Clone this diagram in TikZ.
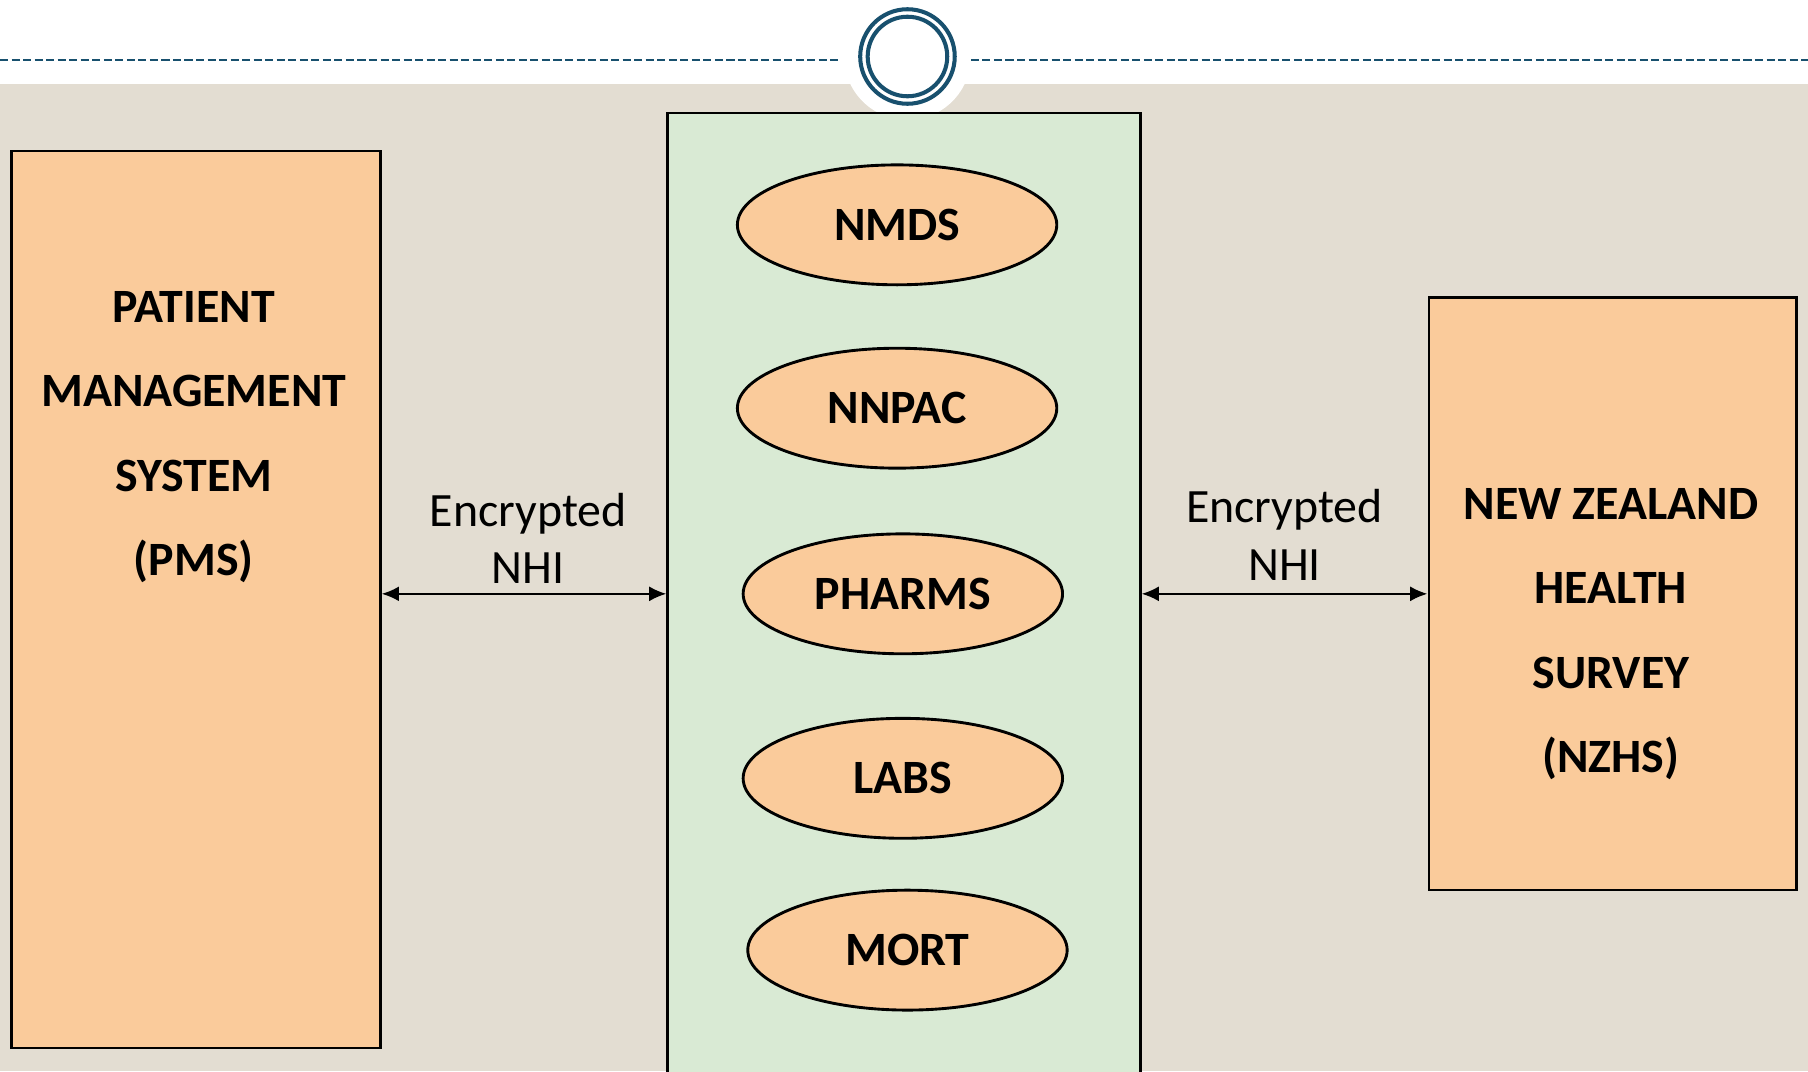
\documentclass[tikz,border=0pt]{standalone}
\usepackage{fontspec}
\setmainfont{Carlito}
\usetikzlibrary{shapes.geometric,arrows.meta}
\definecolor{bgbeige}{RGB}{227,221,210}
\definecolor{boxorange}{RGB}{250,203,155}
\definecolor{hubgreen}{RGB}{217,234,212}
\definecolor{ringblue}{RGB}{24,80,110}
\tikzset{
  bigbox/.style={draw=black, line width=2pt, fill=boxorange, inner sep=0pt, anchor=north west},
  hubbox/.style={draw=black, line width=2pt, fill=hubgreen, inner sep=0pt, anchor=north west},
  dataset/.style={ellipse, draw=black, line width=2.5pt, fill=boxorange, minimum width=277pt, minimum height=104pt, inner sep=0pt,
    font=\fontsize{41.5}{48}\selectfont\bfseries},
  blocktext/.style={align=center, font=\fontsize{41.5}{73.2}\selectfont\bfseries},
  labeltext/.style={align=center, font=\fontsize{41.5}{50}\selectfont},
  biarrow/.style={line width=2pt, {Latex[length=15pt,width=13pt]}-{Latex[length=15pt,width=13pt]}},
  ring/.style={draw=ringblue, line width=3.5pt},
  dashline/.style={draw=ringblue, line width=1.6pt, dash pattern=on 7pt off 3pt}
}
\begin{document}
\begin{tikzpicture}[x=1pt,y=-1pt]
% canvas 1568 x 929 (reference proportions)
\useasboundingbox (0,0) rectangle (1568,929);
\fill[white] (0,0) rectangle (1568,929);
\fill[bgbeige] (0,73) rectangle (1568,929);
% header line and emblem
\coordinate (dl1) at (0,52);
\coordinate (dl2) at (730,52);
\coordinate (dr1) at (842,52);
\coordinate (dr2) at (1568,52);
\draw[dashline] (dl1) -- (dl2);
\draw[dashline] (dr1) -- (dr2);
\node[circle, fill=white, minimum size=110pt, inner sep=0pt] (disc) at (787,49) {};
\node[circle, ring, minimum size=82pt, inner sep=0pt] (outerring) at (787,49) {};
\node[circle, ring, minimum size=69pt, inner sep=0pt] (innerring) at (787,49) {};
% boxes
\node[bigbox, minimum width=320pt, minimum height=778pt] (pms) at (9,130) {};
\node[hubbox, minimum width=410pt, minimum height=850pt] (hub) at (578,97) {};
\node[bigbox, minimum width=319pt, minimum height=514pt] (nzhs) at (1238,257) {};
% box texts
\node[blocktext] (pmstext) at (168,379) {PATIENT\\MANAGEMENT\\SYSTEM\\(PMS)};
\node[blocktext] (nzhstext) at (1397,550) {NEW ZEALAND\\HEALTH\\SURVEY\\(NZHS)};
% datasets
\node[dataset] (nmds) at (778,195) {NMDS};
\node[dataset] (nnpac) at (778,354) {NNPAC};
\node[dataset] (pharms) at (783,515) {PHARMS};
\node[dataset] (labs) at (783,675) {LABS};
\node[dataset] (mort) at (787,824) {MORT};
% connectors
\draw[biarrow] (pms.east |- pharms.center) -- (hub.west |- pharms.center);
\draw[biarrow] (hub.east |- pharms.center) -- (nzhs.west |- pharms.center);
\node[labeltext] (lbl1) at (458,467) {Encrypted\\NHI};
\node[labeltext] (lbl2) at (1114,464) {Encrypted\\NHI};
\end{tikzpicture}
\end{document}
